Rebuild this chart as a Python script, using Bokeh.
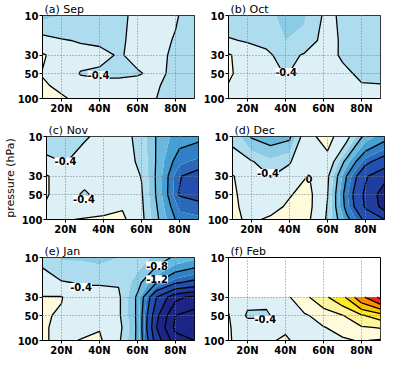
import numpy as np
from bokeh.plotting import figure
from bokeh.layouts import column, row
from bokeh.models import Range1d, FixedTicker, Label, NumeralTickFormatter
from bokeh.embed import file_html
from bokeh.resources import INLINE

# ---------------- data ----------------
lats = [10, 20, 30, 40, 50, 60, 70, 80, 90]
plev = [10, 20, 30, 50, 70, 100]
plev_feb = [30, 50, 70, 100]

# rows = pressure levels (10 ... 100 hPa), columns = latitude (10N ... 90N)
sep = [
    [-0.65, -0.60, -0.55, -0.55, -0.50, -0.30, -0.30, -0.38, -0.50],
    [-0.30, -0.38, -0.42, -0.44, -0.45, -0.32, -0.32, -0.42, -0.50],
    [ 0.05, -0.20, -0.30, -0.33, -0.42, -0.35, -0.33, -0.45, -0.50],
    [-0.02, -0.15, -0.42, -0.45, -0.45, -0.42, -0.35, -0.45, -0.50],
    [ 0.05, -0.08, -0.25, -0.30, -0.30, -0.30, -0.38, -0.48, -0.55],
    [ 0.15,  0.05, -0.10, -0.20, -0.25, -0.30, -0.40, -0.50, -0.55],
]
octo = [
    [-0.50, -0.60, -0.55, -0.65, -0.62, -0.38, -0.41, -0.50, -0.50],
    [-0.38, -0.42, -0.46, -0.60, -0.55, -0.33, -0.42, -0.50, -0.50],
    [ 0.05, -0.25, -0.35, -0.50, -0.37, -0.30, -0.43, -0.50, -0.50],
    [ 0.05, -0.15, -0.25, -0.42, -0.30, -0.28, -0.34, -0.45, -0.45],
    [-0.02, -0.15, -0.20, -0.30, -0.28, -0.28, -0.30, -0.38, -0.39],
    [-0.15, -0.20, -0.20, -0.25, -0.25, -0.25, -0.28, -0.30, -0.30],
]
nov = [
    [-0.50, -0.50, -0.42, -0.35, -0.30, -0.50, -0.90, -1.10, -1.15],
    [-0.35, -0.41, -0.30, -0.30, -0.30, -0.45, -0.92, -1.35, -1.45],
    [ 0.03, -0.20, -0.25, -0.25, -0.25, -0.41, -0.95, -1.58, -1.75],
    [ 0.03, -0.20, -0.47, -0.20, -0.15, -0.37, -0.95, -1.62, -1.70],
    [-0.05, -0.15, -0.15, -0.10, -0.03, -0.35, -0.90, -1.45, -1.50],
    [-0.20, -0.02,  0.02,  0.05,  0.08, -0.33, -0.85, -1.30, -1.35],
]
dec = [
    [-0.45, -0.82, -0.90, -0.85, -0.10,  0.15, -0.30, -0.90, -1.10],
    [-0.30, -0.38, -0.55, -0.42, -0.20, -0.15, -0.90, -1.50, -1.80],
    [ 0.02, -0.20, -0.41, -0.30,  0.02, -0.35, -1.20, -1.95, -2.30],
    [ 0.05, -0.15, -0.20, -0.02,  0.10, -0.39, -1.35, -2.10, -2.60],
    [ 0.05, -0.10, -0.10,  0.05,  0.10, -0.42, -1.30, -2.05, -2.55],
    [ 0.05, -0.05,  0.05,  0.10,  0.05, -0.45, -1.10, -1.70, -2.00],
]
jan = [
    [-0.45, -0.62, -0.62, -0.65, -0.60, -0.50, -0.65, -0.85, -0.95],
    [-0.30, -0.38, -0.42, -0.42, -0.42, -0.70, -1.20, -1.55, -1.70],
    [ 0.02,  0.02, -0.30, -0.30, -0.35, -0.85, -2.00, -2.70, -2.90],
    [ 0.05, -0.05, -0.25, -0.20, -0.35, -0.85, -2.30, -3.20, -3.40],
    [ 0.05, -0.10, -0.15, -0.02, -0.30, -0.85, -2.40, -3.30, -3.50],
    [ 0.05, -0.10,  0.02,  0.06, -0.35, -0.85, -2.20, -3.00, -3.20],
]
feb = [
    [-0.10, -0.30, -0.32, -0.10,  0.30,  0.70,  1.10,  1.90,  2.50],
    [ 0.02, -0.45, -0.45, -0.20, -0.05,  0.15,  0.38,  0.75,  1.00],
    [ 0.03, -0.20, -0.20, -0.05, -0.10, -0.02,  0.12,  0.35,  0.42],
    [ 0.03, -0.15, -0.05,  0.05, -0.15, -0.10, -0.05,  0.03, -0.05],
]

fill_levels = [-9, -2.4, -2.0, -1.6, -1.4, -1.2, -1.0, -0.8, -0.6, -0.4, 0.0,
               0.4, 0.8, 1.2, 1.6, 2.0, 9]
fill_colors = ["#1b2585", "#1f3c9f", "#2350b0", "#2a68bb", "#2f80c4", "#46a0d2",
               "#6bb8de", "#8ccbe5", "#acdcee", "#dcf0f5", "#fefbdc", "#fff59c",
               "#ffe82a", "#ffc400", "#ff8a00", "#f0280a"]
line_levels = [-3.2, -2.8, -2.4, -2.0, -1.6, -1.2, -0.8, -0.4, 0.0,
               0.4, 0.8, 1.2, 1.6, 2.0, 2.4]

lat_ticks = [20, 40, 60, 80]
lat_labels = {20: "20N", 40: "40N", 60: "60N", 80: "80N"}
p_ticks = [10, 30, 50, 100]

panels = [
    ("(a) Sep", sep, plev, [(39.5, 52, "-0.4")]),
    ("(b) Oct", octo, plev, [(40.3, 48, "-0.4")]),
    ("(c) Nov", nov, plev, [(20, 20, "-0.4"), (29.7, 57, "-0.4")]),
    ("(d) Dec", dec, plev, [(28.7, 27.5, "-0.4"), (50.2, 32.6, "0")]),
    ("(e) Jan", jan, plev, [(30.3, 22.7, "-0.4"), (70.3, 12.5, "-0.8"), (70.3, 18.3, "-1.2")]),
    ("(f) Feb", feb, plev_feb, [(29.4, 55.5, "-0.4")]),
]

FONT = "DejaVu Sans"
figs = []
for i, (title, z, pp, clabels) in enumerate(panels):
    col = i % 2
    r = i // 2
    p = figure(frame_width=152, frame_height=83,
               x_range=Range1d(10, 90), y_range=Range1d(100, 10),
               y_axis_type="log", output_backend="svg", toolbar_location=None,
               title=title,
               min_border_left=42 if col == 0 else 32, min_border_right=2,
               min_border_top=14, min_border_bottom=17 if r == 2 else 23,
               background_fill_color="white", border_fill_color="white",
               outline_line_color="black", outline_line_width=1)
    p.title.align = "left"
    p.title.offset = 2
    p.title.standoff = 0
    p.title.text_font = FONT
    p.title.text_font_size = "11px"
    p.title.text_font_style = "normal"
    p.title.text_color = "black"

    zz = np.array(z, dtype=float)
    p.contour(x=lats, y=pp, z=zz, levels=fill_levels,
              fill_color=fill_colors, line_color=None)
    p.contour(x=lats, y=pp, z=zz, levels=line_levels,
              fill_color=None, line_color="black", line_width=1.3)

    p.xaxis.ticker = FixedTicker(ticks=lat_ticks, minor_ticks=[])
    p.xaxis.major_label_overrides = lat_labels
    p.yaxis.ticker = FixedTicker(ticks=p_ticks, minor_ticks=[])
    p.yaxis.formatter = NumeralTickFormatter(format="0")
    for ax in (p.xaxis, p.yaxis):
        ax.major_tick_out = 3
        ax.major_tick_in = 0
        ax.minor_tick_line_color = None
        ax.axis_line_color = "black"
        ax.major_tick_line_color = "black"
        ax.major_label_text_font = FONT
        ax.major_label_text_font_size = "10px"
        ax.major_label_text_font_style = "bold"
        ax.major_label_text_color = "black"
        ax.major_label_standoff = 1
    p.xgrid.ticker = FixedTicker(ticks=lat_ticks)
    p.ygrid.ticker = FixedTicker(ticks=[30, 50])
    for g in (p.xgrid, p.ygrid):
        g.grid_line_color = "#808080"
        g.grid_line_dash = "1 2"
        g.grid_line_width = 1
        g.level = "overlay"

    if i == 2:
        p.yaxis.axis_label = "pressure (hPa)"
        p.yaxis.axis_label_text_font = FONT
        p.yaxis.axis_label_text_font_size = "11px"
        p.yaxis.axis_label_text_font_style = "normal"
        p.yaxis.axis_label_text_color = "black"
        p.yaxis.axis_label_standoff = 2

    if i == 0:
        p.add_layout(Label(x=1, y=1, x_units="canvas", y_units="canvas",
                           text="a)", text_baseline="top", text_font=FONT,
                           text_font_size="8px", text_color="black"))
    for (lx, ly, txt) in clabels:
        p.add_layout(Label(x=lx, y=ly, text=txt, text_align="center",
                           text_baseline="middle", text_font=FONT,
                           text_font_size="10px", text_font_style="bold",
                           background_fill_color="white",
                           text_color="black"))
    figs.append(p)

layout = column(row(figs[0], figs[1]), row(figs[2], figs[3]), row(figs[4], figs[5]))
open("out.html", "w").write(file_html(layout, INLINE))
